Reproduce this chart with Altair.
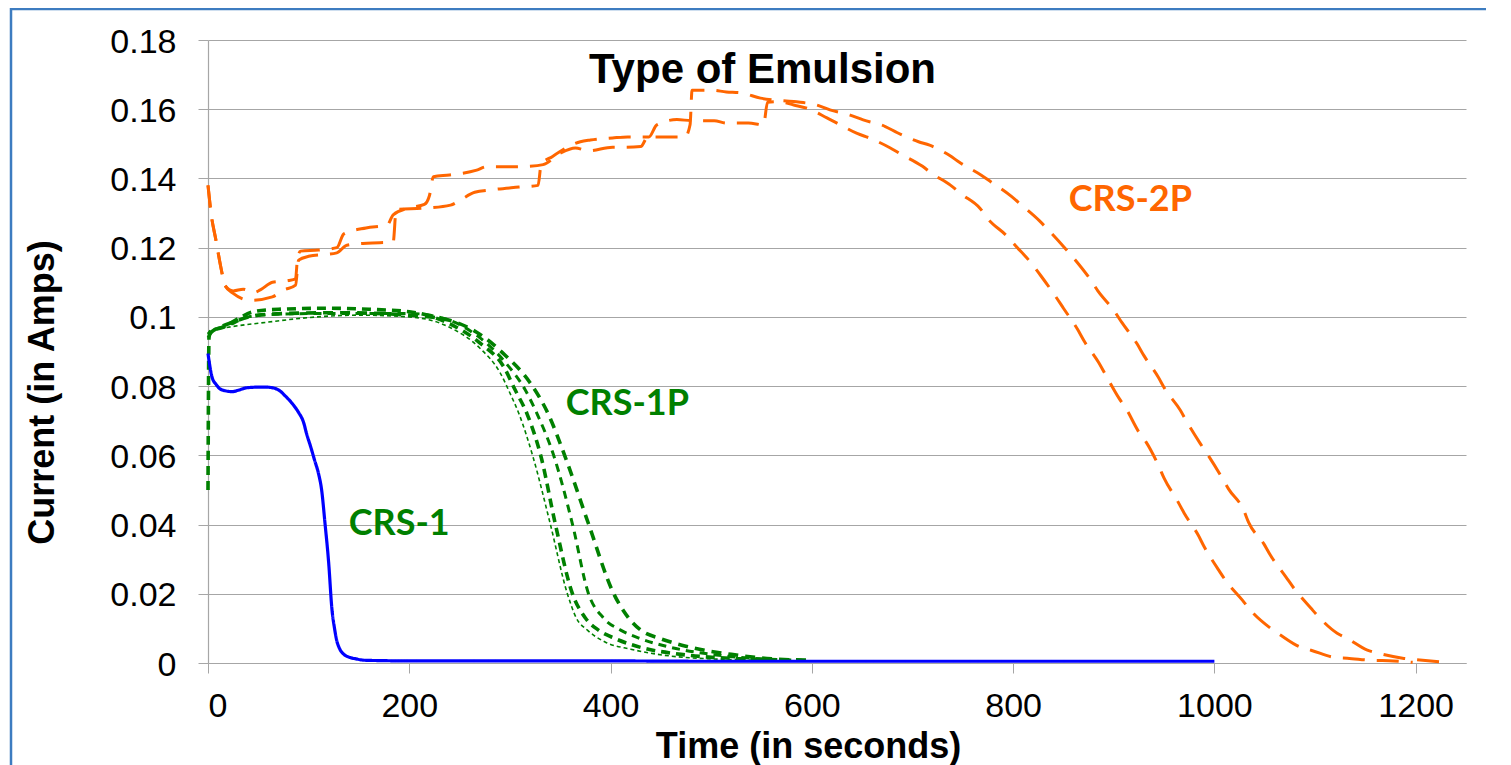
import altair as alt
import pandas as pd

# ---------------- data ----------------
# CRS-1 (blue, solid)
crs1_t = [0, 4, 8, 12, 18, 24, 30, 38, 50, 58, 68, 78, 85, 90, 95, 98, 102, 106, 110, 113,
          116, 120, 123, 126, 128, 131, 135, 140, 147, 155, 170, 200, 300, 400, 500, 600, 700, 800, 900, 1000]
crs1_v = [0.0894, 0.0826, 0.0805, 0.0792, 0.0786, 0.0784, 0.0788, 0.0795, 0.0797, 0.0797,
          0.0792, 0.0768, 0.0745, 0.0724, 0.0695, 0.0662, 0.0625, 0.0585, 0.0545, 0.0498,
          0.0411, 0.0286, 0.016, 0.0095, 0.0064, 0.004, 0.0025, 0.0017, 0.0012, 0.0008,
          0.0007, 0.0006, 0.0006, 0.0006, 0.0005, 0.0005, 0.0005, 0.0005, 0.0005, 0.0005]

# CRS-1P (green, four dashed runs)
p1a_t = [0, 2, 20, 60, 100, 150, 200, 240, 270, 290, 300, 309, 323, 340, 357, 366, 377, 395, 420, 460, 520, 560]
p1a_v = [0.095, 0.096, 0.097, 0.0985, 0.0998, 0.1005, 0.1, 0.097, 0.091, 0.084, 0.078, 0.072,
         0.0595, 0.0403, 0.0201, 0.013, 0.0095, 0.006, 0.004, 0.002, 0.001, 0.0008]
p1b_t = [0, 1, 3, 15, 30, 45, 70, 120, 160, 200, 240, 270, 295, 305, 317, 331, 345, 362, 375, 388,
         405, 430, 470, 530, 580]
p1b_v = [0.05, 0.094, 0.096, 0.097, 0.0995, 0.1015, 0.1022, 0.1025, 0.1022, 0.1015, 0.098, 0.0925,
         0.085, 0.079, 0.072, 0.0595, 0.0403, 0.0201, 0.013, 0.0095, 0.007, 0.0045, 0.0025, 0.0012, 0.0008]
p1c_t = [0, 5, 20, 40, 70, 120, 160, 200, 240, 270, 295, 315, 327, 344, 362, 378, 393, 410, 430,
         460, 500, 550, 590]
p1c_v = [0.094, 0.096, 0.0975, 0.1, 0.1008, 0.101, 0.101, 0.101, 0.099, 0.094, 0.087, 0.079, 0.072,
         0.0595, 0.0403, 0.0201, 0.013, 0.0095, 0.007, 0.0045, 0.0025, 0.0012, 0.0008]
p1d_t = [0, 5, 25, 50, 80, 130, 200, 240, 270, 295, 320, 338, 355, 378, 403, 418, 430, 450, 480,
         520, 560, 600]
p1d_v = [0.095, 0.096, 0.0985, 0.1005, 0.101, 0.1012, 0.1005, 0.099, 0.095, 0.089, 0.081, 0.072,
         0.0595, 0.0403, 0.0201, 0.013, 0.0095, 0.007, 0.0045, 0.0025, 0.0012, 0.0008]

# CRS-2P (orange, two dashed runs)
p2a_t = [0, 3, 8, 13, 17, 25, 35, 45, 52, 64, 80, 87, 89, 92, 110, 128, 135, 157, 178, 184,
         200, 215, 220, 224, 240, 267, 277, 303, 317, 333, 350, 365, 378, 402, 415, 430, 437, 450,
         474, 479, 481, 500, 515, 530, 549, 582, 605, 618, 638, 651, 673, 685, 706, 717, 737, 747,
         768, 778, 798, 808, 826, 836, 852, 861, 876, 884, 901, 908, 923, 930, 944, 951, 966, 973,
         986, 994, 1008, 1014, 1029, 1034, 1049, 1056, 1071, 1079, 1096, 1104, 1122, 1132, 1152,
         1163, 1187, 1200, 1230]
p2a_v = [0.138, 0.130, 0.122, 0.114, 0.109, 0.1075, 0.108, 0.107, 0.1078, 0.110, 0.1105, 0.111,
         0.117, 0.119, 0.1193, 0.120, 0.124, 0.1257, 0.1265, 0.1295, 0.1315, 0.1325, 0.135, 0.1405,
         0.141, 0.1424, 0.1434, 0.1434, 0.1435, 0.144, 0.1473, 0.1488, 0.148, 0.149, 0.149, 0.1492,
         0.152, 0.152, 0.152, 0.1555, 0.1655, 0.1655, 0.165, 0.1647, 0.1632, 0.1622, 0.1612, 0.1598,
         0.1583, 0.1569, 0.155, 0.1532, 0.1506, 0.1496, 0.1466, 0.1446, 0.141, 0.139, 0.1349, 0.1324,
         0.1278, 0.1248, 0.1197, 0.1167, 0.1111, 0.1076, 0.1015, 0.0984, 0.0923, 0.0888, 0.0827,
         0.0791, 0.0731, 0.0695, 0.0634, 0.0599, 0.0533, 0.0503, 0.0442, 0.0406, 0.0345, 0.031,
         0.0249, 0.0216, 0.0158, 0.0132, 0.0086, 0.0071, 0.0037, 0.0028, 0.0014, 0.001, 0.0002]
p2b_t = [0, 3, 8, 13, 17, 25, 42, 64, 75, 87, 90, 100, 128, 138, 158, 184, 187, 214, 241, 251,
         265, 281, 309, 328, 331, 342, 370, 380, 402, 417, 438, 446, 466, 481, 503, 515, 537, 552,
         556, 567, 582, 595, 615, 625, 645, 658, 678, 688, 710, 719, 738, 749, 767, 775, 794, 802,
         819, 827, 842, 850, 864, 871, 885, 892, 905, 912, 925, 932, 945, 950, 963, 970, 984, 990,
         1003, 1011, 1028, 1036, 1056, 1066, 1086, 1096, 1120, 1132, 1155, 1178, 1197]
p2b_v = [0.138, 0.130, 0.122, 0.114, 0.109, 0.1068, 0.1048, 0.1058, 0.1077, 0.1092, 0.1164, 0.1175,
         0.1185, 0.1207, 0.1213, 0.1216, 0.131, 0.1314, 0.1323, 0.1338, 0.136, 0.1367, 0.1375, 0.138,
         0.144, 0.1463, 0.1506, 0.1511, 0.1517, 0.152, 0.152, 0.1555, 0.157, 0.1567, 0.1567, 0.156,
         0.156, 0.1555, 0.162, 0.1622, 0.1612, 0.1603, 0.1575, 0.156, 0.153, 0.1516, 0.1488, 0.1471,
         0.1435, 0.1415, 0.138, 0.1354, 0.1314, 0.1283, 0.1233, 0.1207, 0.1152, 0.1121, 0.106, 0.1025,
         0.0964, 0.0928, 0.0868, 0.0832, 0.0766, 0.0736, 0.0667, 0.0639, 0.0567, 0.0534, 0.047,
         0.0433, 0.0369, 0.0335, 0.0274, 0.0239, 0.0181, 0.0152, 0.010, 0.008, 0.0045, 0.0037,
         0.0016, 0.0014, 0.0008, 0.0006, 0.0002]

x_ticks = [0, 200, 400, 600, 800, 1000, 1200]
y_ticks = [0, 0.02, 0.04, 0.06, 0.08, 0.1, 0.12, 0.14, 0.16, 0.18]

title_text = ["Type of Emulsion"]
title_t = [551]
title_v = [0.1676]

label_text = ["CRS-2P", "CRS-1P", "CRS-1"]
label_t = [916.5, 416.7, 190]
label_v = [0.1307, 0.0716, 0.0369]
label_kind = ["orange", "green", "green"]

# ---------------- styles (one entry per run) ----------------
runs = [
    # (t, v, colour, dash, width)
    (p1a_t, p1a_v, "#008000", [4, 3], 1.6),
    (p1b_t, p1b_v, "#008000", [9, 6], 3.6),
    (p1c_t, p1c_v, "#008000", [8, 6], 3.0),
    (p1d_t, p1d_v, "#008000", [10, 7], 3.6),
    (p2a_t, p2a_v, "#ff6600", [22, 12], 3.0),
    (p2b_t, p2b_v, "#ff6600", [22, 12], 3.0),
    (crs1_t, crs1_v, "#0000ff", [1, 0], 3.2),
]

grey = "#a6a6a6"
xscale = alt.Scale(domain=[0, 1250], nice=False, zero=False)
yscale = alt.Scale(domain=[0, 0.18], nice=False)

x_axis = alt.Axis(values=x_ticks, format="d", title="Time (in seconds)", grid=False,
                  tickSize=10, labelPadding=16, titleX=600, titleY=94,
                  titleBaseline="alphabetic", titleAlign="center")
y_axis = alt.Axis(values=y_ticks, format="~g", title="Current (in Amps)", grid=True,
                  tickSize=10, labelPadding=22, labelOffset=2, titleX=-166, titleY=352,
                  titleBaseline="middle", titleAlign="center", titleAngle=270)


def xe():
    return alt.X("t:Q", scale=xscale, axis=x_axis, title="Time (in seconds)")


def ye():
    return alt.Y("v:Q", scale=yscale, axis=y_axis, title="Current (in Amps)")


layers = []

frame = alt.Chart(pd.DataFrame({"k": [0]})).mark_rect(
    filled=False, stroke="#3d7cc0", strokeWidth=2.5
).encode(
    x=alt.value(-197), x2=alt.value(1400), y=alt.value(-31), y2=alt.value(900)
)
layers.append(frame)

for ts, vs, col, dash, w in runs:
    d = pd.DataFrame({"t": ts, "v": vs})
    layers.append(
        alt.Chart(d).mark_line(interpolate="monotone", color=col, strokeDash=dash, strokeWidth=w)
        .encode(x=xe(), y=ye())
    )

title_df = pd.DataFrame({"text": title_text, "t": title_t, "v": title_v})
layers.append(alt.Chart(title_df).mark_text(
    font="Liberation Sans", fontWeight="bold", fontSize=42, color="black",
    align="center", baseline="alphabetic"
).encode(x=xe(), y=ye(), text="text:N"))

label_df = pd.DataFrame({"text": label_text, "t": label_t, "v": label_v, "kind": label_kind})
layers.append(alt.Chart(label_df).mark_text(
    font="Lato", fontWeight="bold", fontSize=36, align="center", baseline="alphabetic"
).encode(
    x=xe(), y=ye(), text="text:N",
    color=alt.Color("kind:N", scale=alt.Scale(domain=["orange", "green"], range=["#ff6600", "#008000"]),
                    legend=None),
))

chart = alt.layer(*layers).properties(
    width=1258, height=623,
    padding={"left": 200, "top": 32, "right": 20, "bottom": 104},
    autosize=alt.AutoSizeParams(type="none"),
    background="white",
).configure_view(strokeWidth=0).configure_axis(
    gridColor=grey, domainColor=grey, tickColor=grey, gridWidth=1, domainWidth=1.2, tickWidth=1,
    labelFont="Liberation Sans", labelFontSize=34, labelColor="black",
    titleFont="Liberation Sans", titleFontSize=36, titleFontWeight="bold", titleColor="black",
)

chart.save("out.html", embed_options={"renderer": "svg", "actions": False})
